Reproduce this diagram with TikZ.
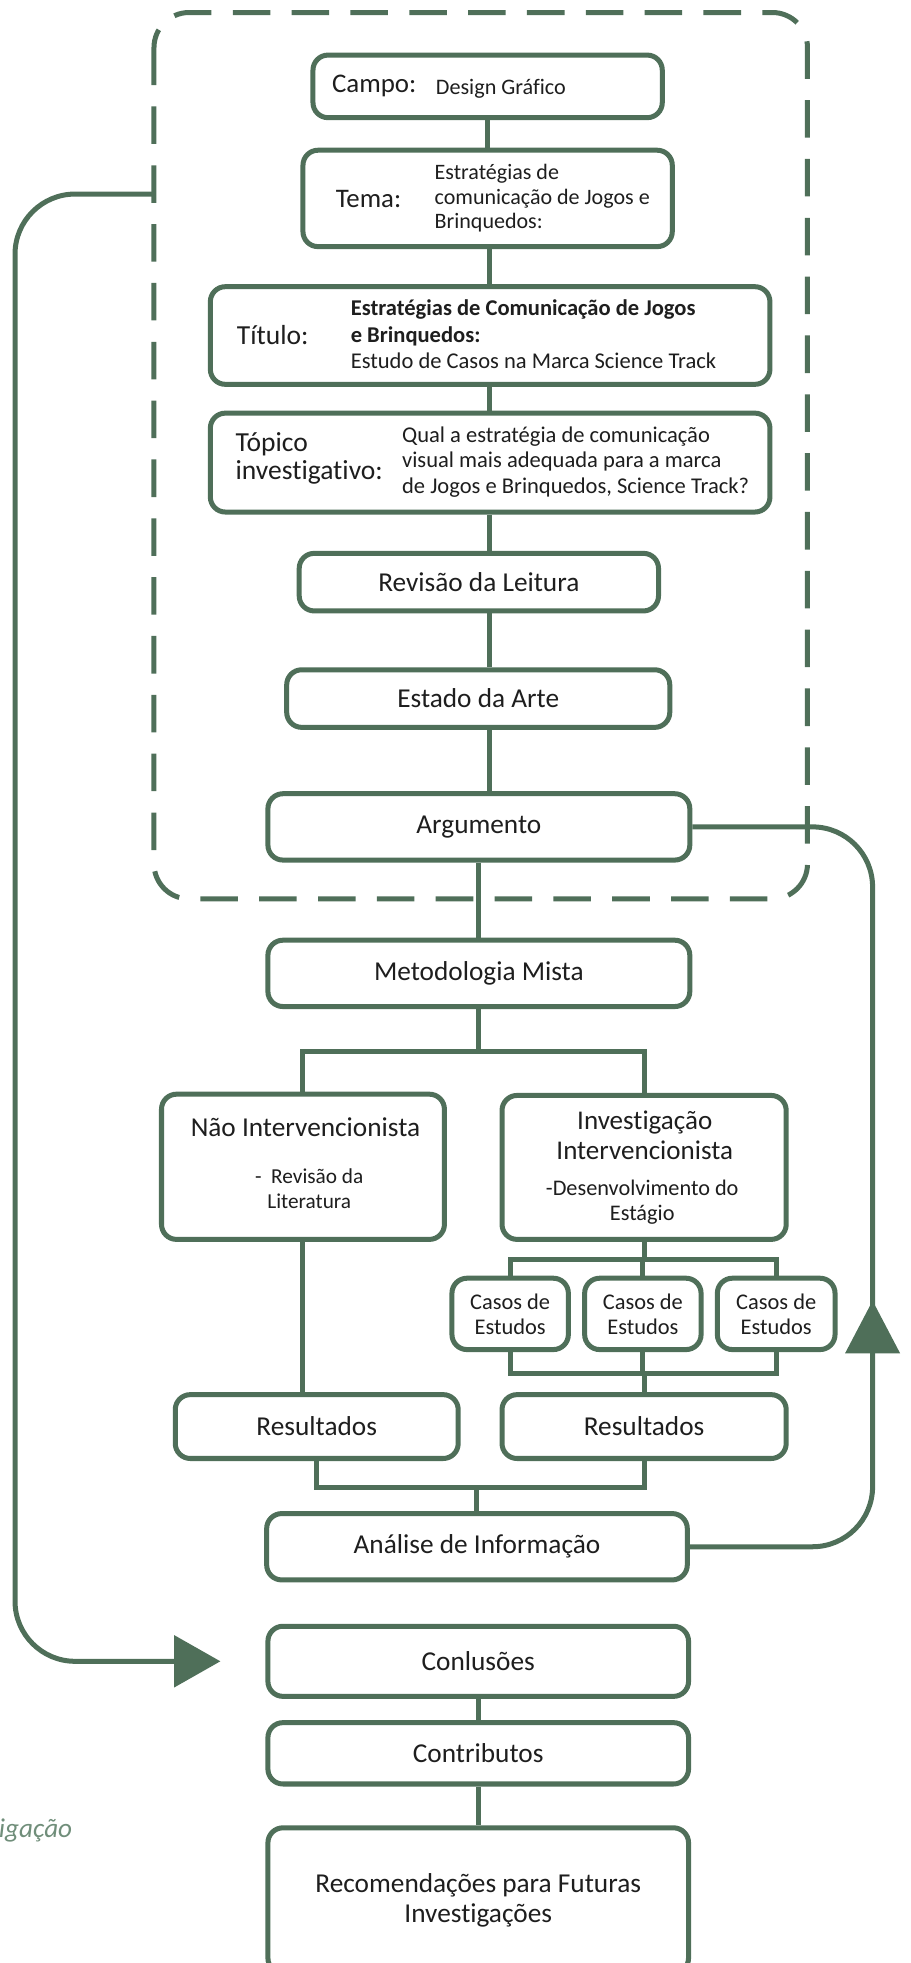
\documentclass[tikz,border=0pt]{standalone}
\usepackage{fontspec}
\setmainfont{Carlito}[Ligatures={NoCommon,NoRare}]
\usetikzlibrary{calc}

\definecolor{frame}{RGB}{79,111,89}
\definecolor{capgreen}{RGB}{112,142,122}
\definecolor{ink}{RGB}{30,30,30}

\tikzset{
	box/.style={draw=frame, line width=4pt, rounded corners=12pt, fill=white, text=ink, inner sep=0pt, align=center, font=\fontsize{21.8}{24}\selectfont},
	link/.style={draw=frame, line width=4pt},
	lbl/.style={anchor=west, inner sep=0pt, text=ink, align=left},
}

\begin{document}
\begin{tikzpicture}[x=1pt, y=-1pt]
		\useasboundingbox (0,0) rectangle (727,1568);
		\clip (0,0) rectangle (727,1568);

		\coordinate (spine) at (391,0);
		\coordinate (mfork) at (382.5,840);
		\coordinate (cfork) at (514.5,1006);
		\coordinate (cjoin) at (514.5,1097);
		\coordinate (rjoin) at (381,1188);
		\coordinate (rcol) at (697,0);
		\coordinate (lcol) at (12,0);
		\coordinate (dashleft) at (123,155);
		\coordinate (lbase) at (140,1327);
		\coordinate (lefttip) at (176,1327);
		\coordinate (uptip) at (697,1039);

		\draw[frame, line width=4pt, dash pattern=on 30pt off 17pt, rounded corners=28pt] (123,10) rectangle (645,718);

		\node[box, minimum width=279pt, minimum height=50pt] (campo) at (389.5,69) {};
		\node[lbl, font=\fontsize{21.5}{22}\selectfont] (campo-l) at (265,69) {Campo:};
		\node[lbl, font=\fontsize{17.7}{19}\selectfont] (campo-t) at (348,71) {Design Gráfico};

		\node[box, minimum width=295pt, minimum height=77pt] (tema) at (389.5,158.5) {};
		\node[lbl, font=\fontsize{21.4}{22}\selectfont] (tema-l) at (268,159) {Tema:};
		\node[lbl, font=\fontsize{17.6}{19.5}\selectfont] (tema-t) at (347,158.5) {Estratégias de\\comunicação de Jogos e\\Brinquedos:};

		\node[box, minimum width=447pt, minimum height=78pt] (titulo) at (391.5,268) {};
		\node[lbl, font=\fontsize{22}{22}\selectfont] (titulo-l) at (189,268) {Título:};
		\node[lbl, font=\fontsize{18}{21}\selectfont] (titulo-t) at (280,267) {\textbf{Estratégias de Comunicação de Jogos}\\\textbf{e Brinquedos:}\\Estudo de Casos na Marca Science Track};

		\node[box, minimum width=447pt, minimum height=79pt] (topico) at (391.5,369.5) {};
		\node[lbl, font=\fontsize{22}{22}\selectfont] (topico-l) at (188,366) {Tópico\\investigativo:};
		\node[lbl, font=\fontsize{18}{20.5}\selectfont] (topico-t) at (321,369) {Qual a estratégia de comunicação\\visual mais adequada para a marca\\de Jogos e Brinquedos, Science Track?};

		\node[box, minimum width=287pt, minimum height=46pt] (revisao) at (382.5,465) {Revisão da Leitura};
		\node[box, minimum width=306pt, minimum height=46pt] (estado) at (382,558) {Estado da Arte};
		\node[box, minimum width=337pt, minimum height=53pt] (argumento) at (382.5,660.5) {Argumento};
		\node[box, minimum width=337pt, minimum height=53pt] (metodologia) at (382.5,777.5) {Metodologia Mista};

		\node[box, minimum width=226pt, minimum height=116pt] (naoint) at (242,932) {};
		\node[inner sep=0pt, text=ink, font=\fontsize{21.8}{24}\selectfont] (naoint-l) at (244,900) {Não Intervencionista};
		\node[inner sep=0pt, text=ink, align=center, font=\fontsize{17}{19.5}\selectfont] (naoint-t) at (247,949.5) {-\ \ Revisão da\\Literatura};

		\node[box, minimum width=227pt, minimum height=115pt] (invint) at (514.5,932.5) {};
		\node[inner sep=0pt, text=ink, align=center, font=\fontsize{21.6}{24}\selectfont] (invint-l) at (515,907) {Investigação\\Intervencionista};
		\node[inner sep=0pt, text=ink, align=center, font=\fontsize{17.8}{20}\selectfont] (invint-t) at (513,960) {-Desenvolvimento do\\Estágio};

		\node[box, minimum width=93pt, minimum height=57pt, font=\fontsize{17.9}{20}\selectfont] (casos1) at (407.5,1049.5) {Casos de\\Estudos};
		\node[box, minimum width=93pt, minimum height=57pt, font=\fontsize{17.9}{20}\selectfont] (casos2) at (513.5,1049.5) {Casos de\\Estudos};
		\node[box, minimum width=94pt, minimum height=57pt, font=\fontsize{17.9}{20}\selectfont] (casos3) at (620,1049.5) {Casos de\\Estudos};

		\node[box, minimum width=226pt, minimum height=51pt] (resL) at (253,1139.5) {Resultados};
		\node[box, minimum width=227pt, minimum height=51pt] (resR) at (514.5,1139.5) {Resultados};

		\node[box, minimum width=336pt, minimum height=53pt] (analise) at (381,1235.5) {Análise de Informação};
		\node[box, minimum width=336pt, minimum height=56pt] (conclusoes) at (382,1327) {Conlusões};
		\node[box, minimum width=336pt, minimum height=49pt] (contributos) at (382,1400.5) {Contributos};
		\node[box, minimum width=336pt, minimum height=116pt] (recomendacoes) at (382,1518) {Recomendações para Futuras\\Investigações};

		\node[anchor=west, inner sep=0pt, text=capgreen, font=\fontsize{21.7}{22}\selectfont\itshape] (caption) at (-1,1462) {igação};

		\draw[link] (campo.south) -- (tema.north);
		\draw[link] (spine |- tema.south) -- (spine |- titulo.north);
		\draw[link] (spine |- titulo.south) -- (spine |- topico.north);
		\draw[link] (spine |- topico.south) -- (spine |- revisao.north);
		\draw[link] (spine |- revisao.south) -- (spine |- estado.north);
		\draw[link] (spine |- estado.south) -- (spine |- argumento.north);
		\draw[link] (argumento.south) -- (metodologia.north);

		\draw[link] (metodologia.south) -- (mfork);
		\draw[link] (naoint.north) |- (mfork) -| (invint.north);
		\draw[link] (naoint.south) -- (naoint.south |- resL.north);

		\draw[link] (invint.south) -- (cfork);
		\draw[link] (casos1.north) |- (cfork) -| (casos3.north);
		\draw[link] (casos2.north) -- (casos2.north |- cfork);
		\draw[link] (casos1.south) |- (cjoin) -| (casos3.south);
		\draw[link] (casos2.south) -- (casos2.south |- cjoin);
		\draw[link] (cjoin) -- (resR.north);

		\draw[link] (resL.south) |- (rjoin) -| (resR.south);
		\draw[link] (rjoin) -- (analise.north);

		\draw[link] (conclusoes.south) -- (contributos.north);
		\draw[link] (contributos.south) -- (recomendacoes.north);

		\draw[link, rounded corners=48pt] (analise.east) -| (rcol |- argumento.east) -- (argumento.east);
		\fill[frame] (uptip) -- ++(-22,42) -- ++(44,0) -- cycle;

		\draw[link, rounded corners=48pt] (dashleft) -| (lcol |- lbase) -- (lbase);
		\fill[frame] (lefttip) -- ++(-37,-21) -- ++(0,42) -- cycle;
	\end{tikzpicture}
\end{document}
